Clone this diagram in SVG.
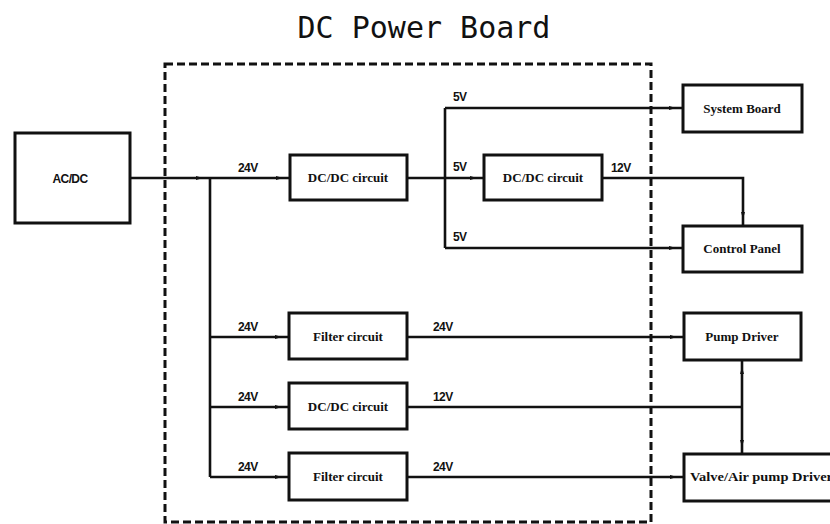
<svg xmlns="http://www.w3.org/2000/svg" width="830" height="524" viewBox="0 0 830 524">
<defs>
<marker id="ah" markerWidth="20" markerHeight="6" refX="16" refY="3" orient="auto" markerUnits="userSpaceOnUse">
<path d="M2,1 L9,3 L2,5 z" fill="#111"/>
</marker>
<style>
.box{fill:#fff;stroke:#111;stroke-width:3}
.ln{fill:none;stroke:#111;stroke-width:2.6}
.lbl{font-family:"Liberation Serif",serif;font-weight:bold;font-size:13px;fill:#111;text-anchor:middle}
.v{font-family:"Liberation Sans",sans-serif;font-weight:bold;font-size:12px;fill:#111;letter-spacing:-0.6px}
</style>
</defs>
<rect width="830" height="524" fill="#fff"/>
<text x="424" y="38" font-family="DejaVu Sans Mono, monospace" font-size="30" fill="#111" text-anchor="middle">DC Power Board</text>
<rect id="board" x="165" y="64" width="486" height="458" fill="none" stroke="#111" stroke-width="3" stroke-dasharray="8 4"/>
<g id="connectors">
<path class="ln" d="M130,178 H210" marker-end="url(#ah)"/>
<path class="ln" d="M210,178 H290" marker-end="url(#ah)"/>
<path class="ln" d="M210,178 V477"/>
<path class="ln" d="M210,337 H289" marker-end="url(#ah)"/>
<path class="ln" d="M210,407 H289" marker-end="url(#ah)"/>
<path class="ln" d="M210,477 H289" marker-end="url(#ah)"/>
<path class="ln" d="M407,178 H445"/>
<path class="ln" d="M445,108 V248"/>
<path class="ln" d="M445,108 H683" marker-end="url(#ah)"/>
<path class="ln" d="M445,178 H484" marker-end="url(#ah)"/>
<path class="ln" d="M445,248 H683" marker-end="url(#ah)"/>
<path class="ln" d="M602,178 H743 V226" marker-end="url(#ah)"/>
<path class="ln" d="M407,337 H684" marker-end="url(#ah)"/>
<path class="ln" d="M407,407 H742"/>
<path class="ln" d="M742,407 V360" marker-end="url(#ah)"/>
<path class="ln" d="M742,407 V454" marker-end="url(#ah)"/>
<path class="ln" d="M407,477 H684" marker-end="url(#ah)"/>
</g>
<g id="acdc"><rect class="box" x="15" y="133" width="115" height="90"/><text x="70" y="183" font-family="Liberation Sans, sans-serif" font-weight="bold" font-size="12" fill="#111" text-anchor="middle" letter-spacing="-0.6">AC/DC</text></g>
<g id="dcdc1"><rect class="box" x="290" y="155" width="117" height="45"/><text class="lbl" x="348" y="182">DC/DC circuit</text></g>
<g id="dcdc2"><rect class="box" x="484" y="155" width="118" height="45"/><text class="lbl" x="543" y="182">DC/DC circuit</text></g>
<g id="sysboard"><rect class="box" x="683" y="85" width="119" height="47"/><text class="lbl" x="742" y="113">System Board</text></g>
<g id="ctrlpanel"><rect class="box" x="683" y="226" width="119" height="46"/><text class="lbl" x="742" y="253">Control Panel</text></g>
<g id="filter1"><rect class="box" x="289" y="313" width="118" height="46"/><text class="lbl" x="348" y="341">Filter circuit</text></g>
<g id="dcdc3"><rect class="box" x="289" y="383" width="118" height="46"/><text class="lbl" x="348" y="411">DC/DC circuit</text></g>
<g id="filter2"><rect class="box" x="289" y="453" width="118" height="47"/><text class="lbl" x="348" y="481">Filter circuit</text></g>
<g id="pump"><rect class="box" x="684" y="313" width="117" height="47"/><text class="lbl" x="742" y="341">Pump Driver</text></g>
<g id="valve"><rect class="box" x="684" y="454" width="160" height="47"/><text class="lbl" x="690" y="481" style="text-anchor:start" textLength="143" lengthAdjust="spacingAndGlyphs">Valve/Air pump Driver</text></g>
<g id="labels">
<text class="v" x="238" y="172">24V</text>
<text class="v" x="453" y="101">5V</text>
<text class="v" x="453" y="171">5V</text>
<text class="v" x="453" y="241">5V</text>
<text class="v" x="611" y="172">12V</text>
<text class="v" x="238" y="331">24V</text>
<text class="v" x="238" y="401">24V</text>
<text class="v" x="238" y="471">24V</text>
<text class="v" x="433" y="331">24V</text>
<text class="v" x="433" y="401">12V</text>
<text class="v" x="433" y="471">24V</text>
</g>
</svg>
